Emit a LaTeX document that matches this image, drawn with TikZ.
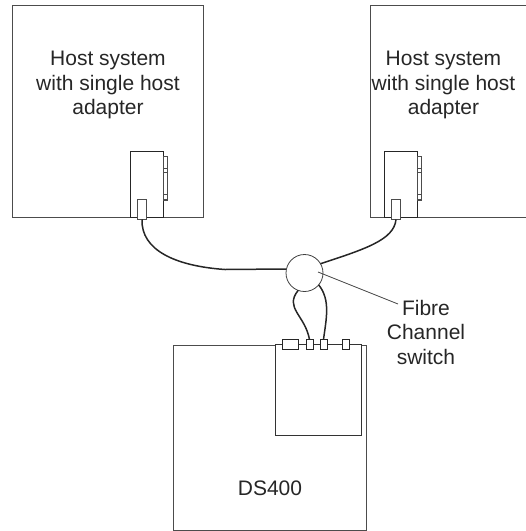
\documentclass[tikz,border=0pt]{standalone}
\usepackage{fontspec}
\setmainfont{Liberation Sans}
\begin{document}
\begin{tikzpicture}[x=1pt, y=-1pt, outer sep = 0pt]

\tikzstyle{wall}=[draw=black!70, line width=0.9pt]
\tikzstyle{cable}=[draw=black!85, line width=1.5pt]
\tikzstyle{port}=[draw=black!70, fill=white, line width=0.8pt, rectangle, anchor=north west, inner sep=0pt]
\tikzstyle{caption}=[align=center, font=\fontsize{21}{24.5}\selectfont, inner sep=0pt, text=black!85]

\useasboundingbox (0,0) rectangle (526,531);

% host systems
\draw[wall] (12,5) rectangle (203,217);
\draw[wall] (526,5) -- (370,5) -- (370,217) -- (526,217);
\node[caption] (host1) at (108,85) {Host system\\with single host\\adapter};
\node[caption] (host2) at (443.5,85) {Host system\\with single host\\adapter};

% adapters
\foreach \name/\x in {a/130,b/384} {
  \node[port, minimum width=33pt, minimum height=66pt, draw=black!85] (adapter\name) at (\x,151) {};
  \node[port, minimum width=4.5pt, minimum height=44pt] (rail\name) at (\x+33,156) {};
  \node[port, minimum width=4.5pt, minimum height=4pt] (clipa\name) at (\x+33,168) {};
  \node[port, minimum width=4.5pt, minimum height=5pt] (clipb\name) at (\x+33,194.5) {};
  \node[port, minimum width=9pt, minimum height=20pt] (plug\name) at (\x+7.5,199.5) {};
}

% storage
\draw[wall] (173,345) rectangle (366,530);
\node[port, minimum width=86pt, minimum height=91pt, draw=black!80, line width=0.9pt] (ctrl) at (275,344) {};
\node[caption] (ds) at (270,488) {DS400};
\node[port, minimum width=16pt, minimum height=9.5pt, draw=black!85] (gbic1) at (282,339.5) {};
\node[port, minimum width=7pt, minimum height=9.5pt, draw=black!85] (gbic2) at (306,339.5) {};
\node[port, minimum width=7pt, minimum height=9.5pt, draw=black!85] (gbic3) at (320,339.5) {};
\node[port, minimum width=7pt, minimum height=9.5pt, draw=black!85] (gbic4) at (342,339.5) {};

% switch
\node[draw=black!75, fill=white, circle, minimum size=37pt, line width=0.8pt] (switch) at (304.5,273) {};
\coordinate (pointer) at (318,272);
\coordinate (lblend) at (398,304);
\node[caption] (lbl) at (426,332) {Fibre\\Channel\\switch};
\draw[black!75, line width=0.8pt] (pointer) -- (lblend);

% cables
\draw[cable] (plugb.south) .. controls (394,240) and (365,249) .. (switch.30);
\draw[cable] (pluga.south) .. controls (141,250) and (175,266) .. (225,269.5) -- (switch.west |- 0,269);
\draw[cable] (switch.250) .. controls (284,308) and (305,315) .. (gbic2.north);
\draw[cable] (switch.-40) .. controls (331,300) and (326,320) .. (gbic3.north);

\end{tikzpicture}
\end{document}
